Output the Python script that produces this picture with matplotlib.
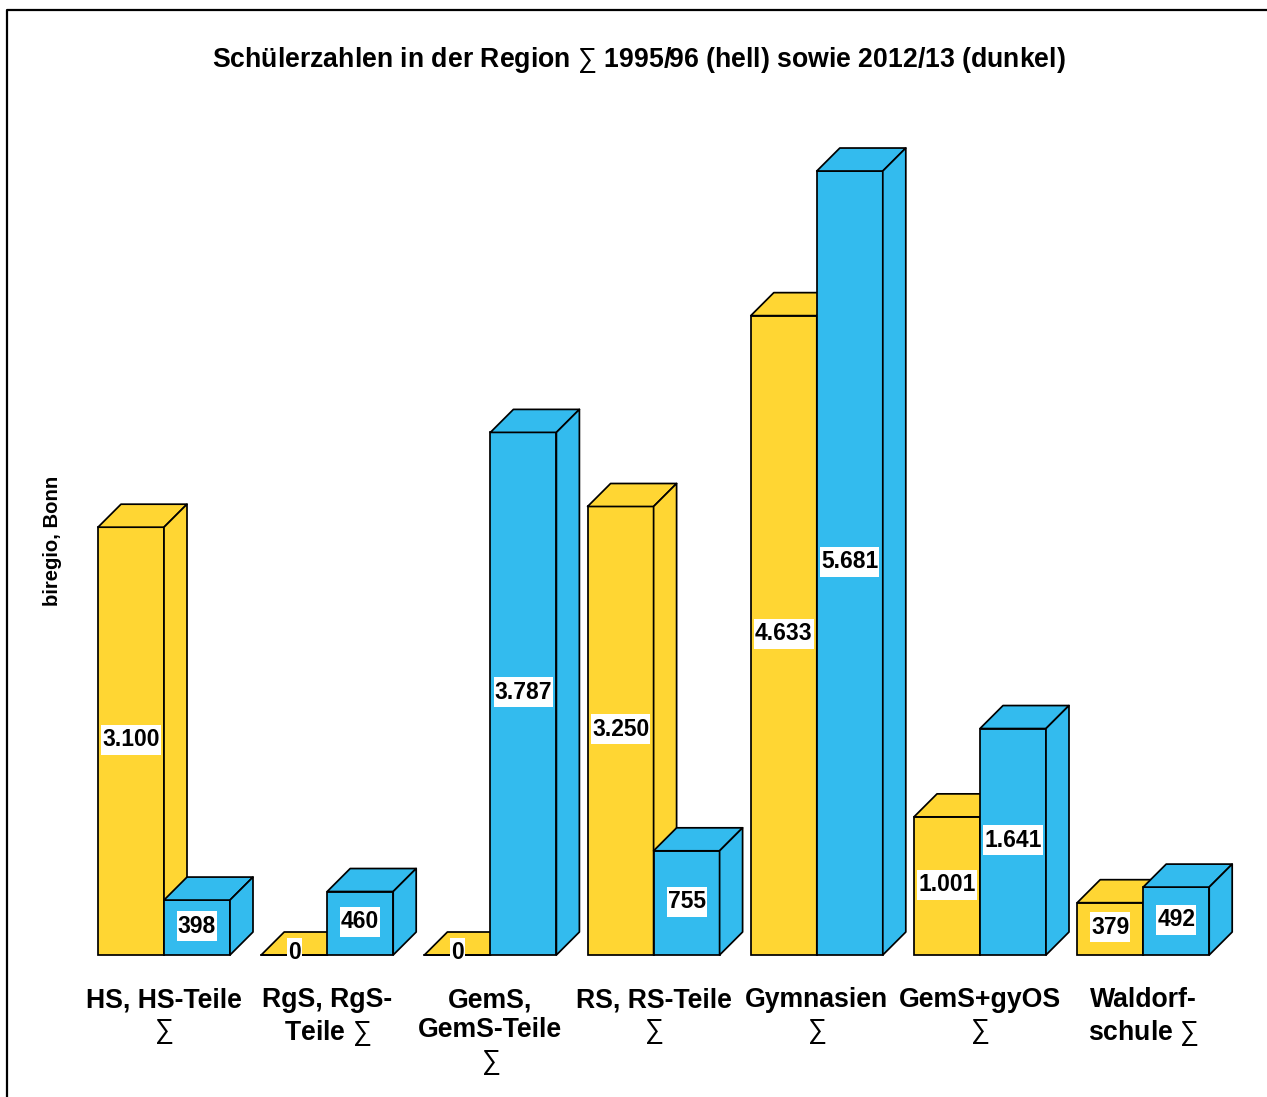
import matplotlib
matplotlib.use("Agg")
import matplotlib.pyplot as plt
from matplotlib.lines import Line2D
from matplotlib.patches import Polygon
from matplotlib.path import Path

plt.rcParams['font.family'] = ['Liberation Sans', 'DejaVu Sans']
plt.rcParams['mathtext.fontset'] = 'custom'
plt.rcParams['mathtext.rm'] = 'Liberation Sans'
plt.rcParams['mathtext.default'] = 'rm'

categories = ["HS, HS-Teile\n$∑$", "RgS, RgS-\nTeile $∑$", "GemS,\nGemS-Teile\n$∑$", "RS, RS-Teile\n$∑$",
              "Gymnasien\n$∑$", "GemS+gyOS\n$∑$", "Waldorf-\nschule $∑$"]
werte_1995 = [3100, 0, 0, 3250, 4633, 1001, 379]
werte_2012 = [398, 460, 3787, 755, 5681, 1641, 492]
labels_1995 = ["3.100", "0", "0", "3.250", "4.633", "1.001", "379"]
labels_2012 = ["398", "460", "3.787", "755", "5.681", "1.641", "492"]

hell = "#FFD633"
dunkel = "#33BBEE"

W, H = 1267, 1097
fig = plt.figure(figsize=(W/100, H/100), dpi=100)
ax = fig.add_axes([0, 0, 1, 1])
ax.axis("off")

# scale: 163.2 px per group, 0.138 px per pupil, baseline at y=955
px_x = 163.2
px_y = 0.138
ax.set_xlim(-164/px_x, (W-164)/px_x)
ax.set_ylim(-(H-955)/px_y, 955/px_y)

bw = 66/px_x
dx = 23/px_x
dy = 23/px_y
lw = 1.25


def kasten(x0, y0, w, h, scale):
    # white box behind the numbers: 1 px wider than the text each side, always 30 px high
    m = y0 + h/2
    x0, x1, y0, y1 = x0-1, x0+w+1, m-15, m+15
    return Path([(x0, y0), (x1, y0), (x1, y1), (x0, y1), (x0, y0)], closed=True)


def saeule(x, v, farbe, z):
    ax.bar(x, v, width=bw, align="edge", color=farbe, edgecolor="black", linewidth=lw, zorder=z)
    ax.add_patch(Polygon([(x, v), (x+dx, v+dy), (x+bw+dx, v+dy), (x+bw, v)],
                         facecolor=farbe, edgecolor="black", linewidth=lw, joinstyle="round", zorder=z))
    ax.add_patch(Polygon([(x+bw, 0), (x+bw+dx, dy), (x+bw+dx, v+dy), (x+bw, v)],
                         facecolor=farbe, edgecolor="black", linewidth=lw, joinstyle="round", zorder=z))
    if v == 0:
        ax.plot([x, x+bw], [0, 0], color="black", lw=lw, zorder=z)


def wert(x, v, txt, z):
    off = 1.0 if v > 0 else 1.8
    ax.annotate(txt, (x+bw/2, v/2), xytext=(0, off), textcoords="offset points", ha="center", va="center",
                fontsize=16.5, fontweight="bold", color="black", zorder=z,
                bbox=dict(boxstyle=kasten, facecolor="white", edgecolor="none"))


for i in range(len(categories)):
    z = 2 + i*2
    saeule(i-bw, werte_1995[i], hell, z)
    saeule(i, werte_2012[i], dunkel, z+1)
    wert(i-bw, werte_1995[i], labels_1995[i], 30)
    wert(i, werte_2012[i], labels_2012[i], 30)
    ax.text(i, -(987-955)/px_y, categories[i], ha="center", va="top", fontsize=19.2, fontweight="bold",
            linespacing=1.21)

fig.text(639/W, 1-60/H, "Schülerzahlen in der Region $∑$ 1995/96 (hell) sowie 2012/13 (dunkel)",
         ha="center", va="center", fontsize=19.2, fontweight="bold")
fig.text(53/W, 1-541/H, "biregio, Bonn", rotation=90, ha="center", va="center", fontsize=14.6, fontweight="bold")

# frame, only left and top are inside the picture
fig.add_artist(Line2D([7/W, 7/W, 1], [0, 1-10/H, 1-10/H], color="black", lw=1.6))

fig.savefig("out.png", dpi=100)
